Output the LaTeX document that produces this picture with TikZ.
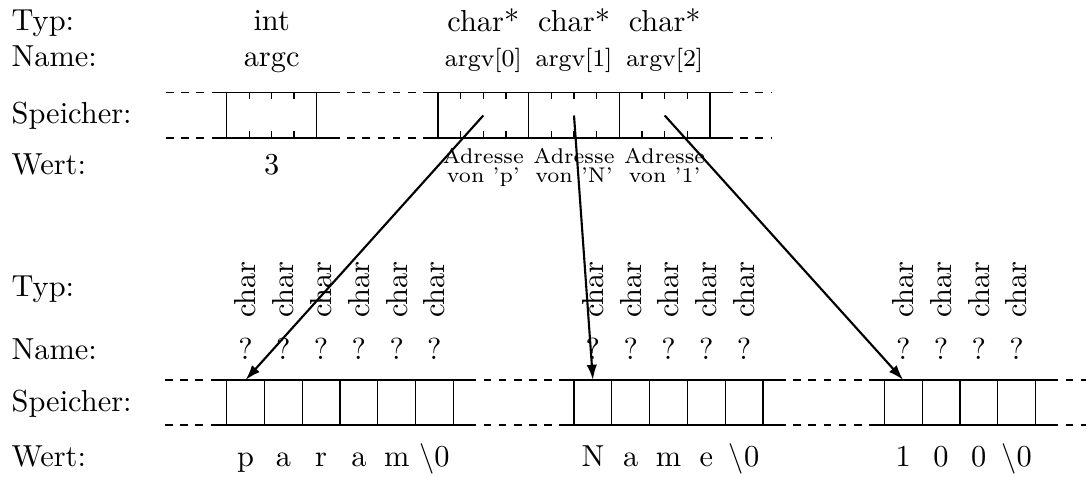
\documentclass[tikz,border=0pt]{standalone}
\usetikzlibrary{arrows.meta}
\begin{document}
\begin{tikzpicture}[x=0.329pt,y=0.329pt,yscale=-1,xscale=1,
    gap/.style={dash pattern={on 2.5pt off 2.5pt}},
    ptr/.style={line width=0.7pt,-{Latex[length=5pt,width=3.4pt]}},
    lbl/.style={anchor=base west,inner sep=0pt},
    val/.style={anchor=base,inner sep=0pt},
    adr/.style={anchor=base,inner sep=0pt,font=\scriptsize},
    typ/.style={rotate=90,inner sep=0pt}]
\useasboundingbox (0,0) rectangle (1091,477);

%Row labels, top
\node[lbl] (typA) at (11,31) {Typ:};
\node[lbl] (nameA) at (11,66.7) {Name:};
\node[lbl] (memA) at (11,123.5) {Speicher:};
\node[lbl] (wertA) at (11,175) {Wert:};
%Row labels, bottom
\node[lbl] (typB) at (11,296.7) {Typ:};
\node[lbl] (nameB) at (11,360) {Name:};
\node[lbl] (memB) at (11,412) {Speicher:};
\node[lbl] (wertB) at (11,466.7) {Wert:};

%Straight Lines, top memory
\draw[gap] (166,92.5) -- (212,92.5) (332,92.5) -- (423,92.5) (725,92.5) -- (771,92.5);
\draw[gap] (166,138) -- (212,138) (332,138) -- (423,138) (725,138) -- (771,138);
\draw (212,92.5) -- (332,92.5) (212,138) -- (332,138);
\draw (423,92.5) -- (725,92.5) (423,138) -- (725,138);
%cells argc, argv[0..2]
\foreach \x in {226.7,316.7,438,528.7,619.3,710}
  \draw (\x,92.5) -- (\x,138);
%byte ticks
\foreach \x in {249.3,271.7,294,460.7,483.3,506,551.3,574,596.7,642,664.7,687.3} {
  \draw (\x,92.5) -- (\x,99.5);
  \draw (\x,131) -- (\x,138);
}

% Text Node
\node[val] (tArgc) at (271.7,31) {int};
\node[val] (nArgc) at (271.7,66.7) {argc};
\node[val] (wArgc) at (271.7,175) {3};
\foreach \x/\c [count=\i from 0] in {483.3/p,574/N,664.7/1} {
  \node[val] (tArgv\i) at (\x,31.5) {char*};
  \node[val,font=\footnotesize] (nArgv\i) at (\x,66.7) {argv[\i]};
  \node[adr] (aArgv\i) at (\x,164) {Adresse};
  \node[adr] (vArgv\i) at (\x,183) {von '\c'};
  \coordinate (argv\i) at (\x,115.5);
}

%Straight Lines, bottom memory
\draw[gap] (165,380) -- (211.7,380) (468.3,380) -- (559,380) (778,380) -- (869.3,380) (1050.5,380) -- (1086,380);
\draw[gap] (165,425) -- (211.7,425) (468.3,425) -- (559,425) (778,425) -- (869.3,425) (1050.5,425) -- (1086,425);
\draw (211.7,380) -- (468.3,380) (211.7,425) -- (468.3,425);
\draw (559,380) -- (778,380) (559,425) -- (778,425);
\draw (869.3,380) -- (1050.5,380) (869.3,425) -- (1050.5,425);
\foreach \x in {226.7,264.5,302.2,340,377.8,415.5,453.3,574,611.8,649.6,687.4,725.2,763,884.3,922.1,959.9,997.7,1035.5}
  \draw (\x,380) -- (\x,425);

% Text Node, string "param"
\foreach \x/\v [count=\i] in {245.6/p,283.4/a,321.1/r,358.9/a,396.7/m,434.4/{$\backslash$0}} {
  \node[typ] (tP\i) at (\x,289.5) {char};
  \node[val] (nP\i) at (\x,360) {?};
  \node[val] (wP\i) at (\x,466.7) {\v};
}
% Text Node, string "Name"
\foreach \x/\v [count=\i] in {592.9/N,630.7/a,668.5/m,706.3/e,744.1/{$\backslash$0}} {
  \node[typ] (tN\i) at (\x,289.5) {char};
  \node[val] (nN\i) at (\x,360) {?};
  \node[val] (wN\i) at (\x,466.7) {\v};
}
% Text Node, string "100"
\foreach \x/\v [count=\i] in {903.2/1,941/0,978.8/0,1016.6/{$\backslash$0}} {
  \node[typ] (tD\i) at (\x,289.5) {char};
  \node[val] (nD\i) at (\x,360) {?};
  \node[val] (wD\i) at (\x,466.7) {\v};
}
\coordinate (strP) at (245.6,380);
\coordinate (strN) at (592.9,380);
\coordinate (strD) at (903.2,380);

%Pointers
\draw[ptr] (argv0) -- (strP);
\draw[ptr] (argv1) -- (strN);
\draw[ptr] (argv2) -- (strD);
\end{tikzpicture}
\end{document}
